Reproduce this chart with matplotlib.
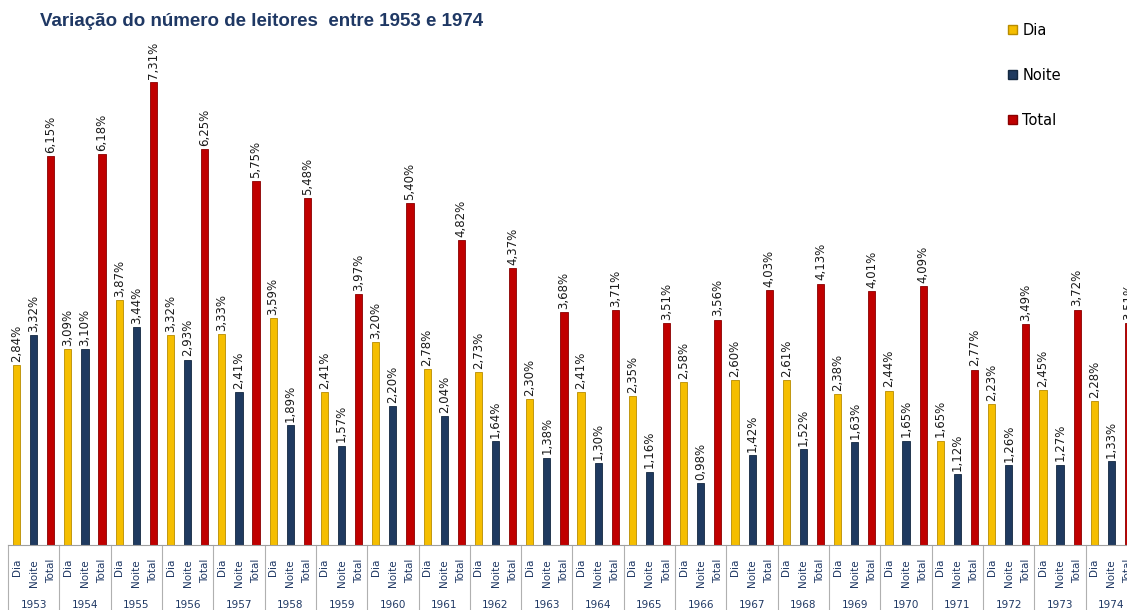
import matplotlib
matplotlib.use("Agg")
from matplotlib import pyplot as plt
from matplotlib.patches import Patch
import numpy as np

years = ["1953", "1954", "1955", "1956", "1957", "1958", "1959", "1960", "1961", "1962", "1963",
         "1964", "1965", "1966", "1967", "1968", "1969", "1970", "1971", "1972", "1973", "1974"]

dia = [2.84, 3.09, 3.87, 3.32, 3.33, 3.59, 2.41, 3.20, 2.78, 2.73, 2.30,
       2.41, 2.35, 2.58, 2.60, 2.61, 2.38, 2.44, 1.65, 2.23, 2.45, 2.28]
noite = [3.32, 3.10, 3.44, 2.93, 2.41, 1.89, 1.57, 2.20, 2.04, 1.64, 1.38,
         1.30, 1.16, 0.98, 1.42, 1.52, 1.63, 1.65, 1.12, 1.26, 1.27, 1.33]
total = [6.15, 6.18, 7.31, 6.25, 5.75, 5.48, 3.97, 5.40, 4.82, 4.37, 3.68,
         3.71, 3.51, 3.56, 4.03, 4.13, 4.01, 4.09, 2.77, 3.49, 3.72, 3.51]

series = ["Dia", "Noite", "Total"]
colors = ["#F5BE00", "#1F3A60", "#C00000"]
edges = ["#B88C00", "#142840", "#8A0000"]
navy = "#1F3864"

fig = plt.figure(figsize=(11.27, 6.10), dpi=100)
# axes runs a bit past the right edge, like the original (last bar cut off)
ax = fig.add_axes([8 / 1127, 65 / 610, 1129 / 1127, 506.4 / 610])

n = len(years)
base = np.arange(n) * 3
for k, (vals, c, ec) in enumerate(zip([dia, noite, total], colors, edges)):
    x = base + k
    ax.bar(x, vals, width=0.42, color=c, edgecolor=ec, linewidth=0.6, zorder=2)
    for xi, v in zip(x, vals):
        ax.text(xi, v + 0.05, f"{v:.2f}%".replace(".", ","), rotation=90,
                ha="center", va="bottom", fontsize=8.5, color="#1a1a1a")

ax.set_xlim(-0.5, 3 * n - 0.5)
ax.set_ylim(0, 8)
ax.set_yticks([])
for s in ["top", "right", "left"]:
    ax.spines[s].set_visible(False)
ax.spines["bottom"].set_color("#A0A0A0")

ticks = np.concatenate([base + k for k in range(3)])
ax.set_xticks(ticks)
ax.set_xticklabels([series[k] for k in range(3) for _ in range(n)], rotation=90,
                   fontsize=7.5, color=navy)
ax.tick_params(axis="x", length=0, pad=10)

for g in range(n + 1):
    ax.plot([g * 3 - 0.5] * 2, [0, -0.14], transform=ax.get_xaxis_transform(),
            color="#B0B0B0", lw=0.8, clip_on=False)
for g, y in enumerate(years):
    ax.text(g * 3 + 1, -0.118, y, transform=ax.get_xaxis_transform(),
            ha="center", va="center", fontsize=7.5, color=navy)

fig.text(40 / 1127, 1 - 21 / 610, "Variação do número de leitores  entre 1953 e 1974",
         fontsize=13.5, fontweight="bold", color=navy, family="Liberation Sans",
         ha="left", va="center")

handles = [Patch(facecolor=c, edgecolor=ec) for c, ec in zip(colors, edges)]
fig.legend(handles, series, loc="upper left", bbox_to_anchor=(1002 / 1127, 1 - 17 / 610),
           frameon=False, fontsize=10.5, handlelength=0.6, handleheight=0.6,
           handletextpad=0.4, labelspacing=2.05, borderaxespad=0)

fig.savefig("out.png", dpi=100)
